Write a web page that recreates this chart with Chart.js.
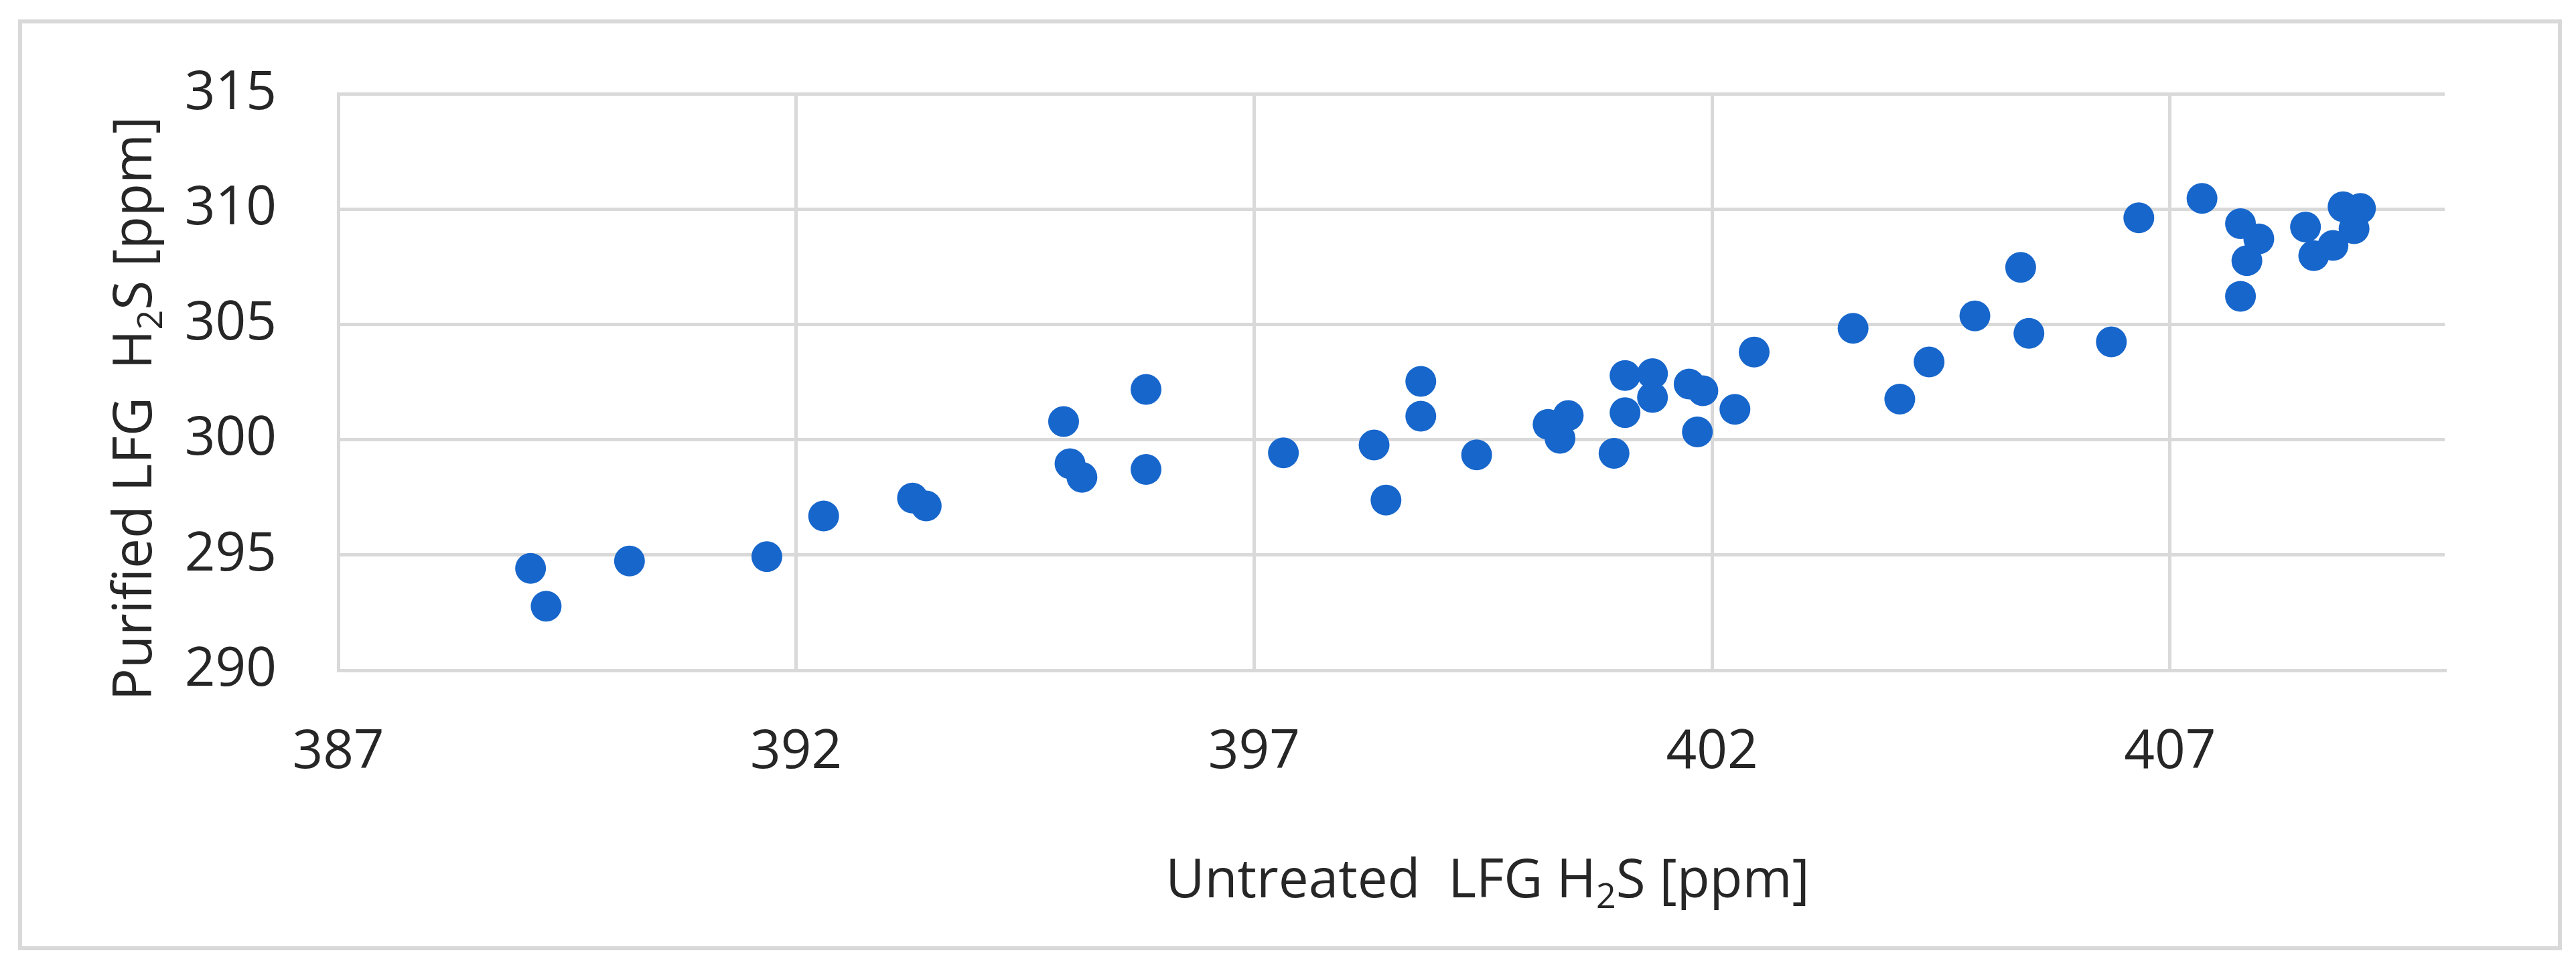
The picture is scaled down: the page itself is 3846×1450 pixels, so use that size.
<!DOCTYPE html>
<html>
<head>
<meta charset="utf-8">
<script src="https://cdn.jsdelivr.net/npm/chart.js@4.4.1/dist/chart.umd.min.js"></script>
<style>
  html, body { margin: 0; padding: 0; background: #fff; }
  #wrap { width: 3846px; height: 1450px; }
</style>
</head>
<body>
<div id="wrap"><canvas id="myChart" width="3846" height="1450"></canvas></div>
<script>
// untreated vs purified H2S readings (ppm)
const untreated = [
  389.10, 389.27, 390.18, 391.68, 392.30, 393.27, 393.42, 394.92, 394.99, 395.12,
  395.82, 395.82, 397.32, 398.31, 398.44, 398.82, 398.82, 399.43, 400.21, 400.43,
  400.34, 400.93, 401.05, 401.35, 401.35, 401.05, 401.75, 401.90, 401.84, 402.25,
  402.46, 403.54, 404.05, 404.37, 404.87, 405.37, 405.46, 406.36, 406.66, 407.35,
  407.77, 407.97, 407.84, 407.77, 408.48, 408.57, 408.78, 409.01, 408.89, 409.08
];
const purified = [
  294.42, 292.78, 294.74, 294.93, 296.69, 297.47, 297.13, 300.79, 298.96, 298.37,
  302.18, 298.71, 299.43, 299.77, 297.38, 302.53, 301.02, 299.34, 300.66, 301.05,
  300.06, 299.41, 302.78, 302.86, 301.83, 301.17, 302.41, 302.12, 300.34, 301.32,
  303.80, 304.83, 301.76, 303.37, 305.37, 307.47, 304.61, 304.24, 309.62, 310.46,
  309.37, 308.71, 307.76, 306.22, 309.22, 307.98, 308.42, 309.15, 310.10, 310.03
];
const xTicks = [387, 392, 397, 402, 407];
const yTicks = [290, 295, 300, 305, 310, 315];
const xTitle = ['Untreated  LFG H', '2', 'S [ppm]'];
const yTitle = ['Purified LFG  H', '2', 'S [ppm]'];

const FONT = '"Open Sans", "Noto Sans", sans-serif';
const textColor = '#262626';
const gridColor = '#d9d9d9';

// draws the frame and the two axis titles (with subscript 2)
const decor = {
  id: 'decor',
  beforeDraw(chart) {
    const c = chart.ctx;
    c.save();
    c.fillStyle = '#fff';
    c.fillRect(0, 0, chart.width, chart.height);
    c.strokeStyle = '#d9d9d9';
    c.lineWidth = 6;
    c.strokeRect(30, 32, 3792, 1384);
    c.restore();
  },
  afterDraw(chart) {
    const c = chart.ctx;
    const big = '80px ' + FONT, small = '52px ' + FONT;
    function widthOf(parts) {
      c.font = big; let w = c.measureText(parts[0]).width + c.measureText(parts[2]).width;
      c.font = small; w += c.measureText(parts[1]).width;
      return w;
    }
    function drawParts(parts, x, y) {
      c.font = big; c.fillText(parts[0], x, y); x += c.measureText(parts[0]).width;
      c.font = small; c.fillText(parts[1], x, y + 16); x += c.measureText(parts[1]).width;
      c.font = big; c.fillText(parts[2], x, y);
    }
    c.save();
    c.fillStyle = textColor;
    c.textBaseline = 'alphabetic';
    c.textAlign = 'left';
    // x title
    let w = widthOf(xTitle);
    drawParts(xTitle, 2221 - w / 2, 1340);
    // y title, rotated
    w = widthOf(yTitle);
    c.translate(226, 610);
    c.rotate(-Math.PI / 2);
    drawParts(yTitle, -w / 2, 0);
    c.restore();
  }
};

const ctx = document.getElementById('myChart');
const myChart = new Chart(ctx, {
  type: 'scatter',
  data: {
    datasets: [{
      data: untreated.map((v, i) => ({ x: v, y: purified[i] })),
      backgroundColor: '#1766CC',
      borderColor: '#1766CC',
      borderWidth: 0,
      pointRadius: 23,
      pointHoverRadius: 23
    }]
  },
  options: {
    responsive: false,
    animation: false,
    devicePixelRatio: 1,
    events: [],
    layout: { padding: { top: 130, right: 196, left: 0, bottom: 0 } },
    plugins: { legend: { display: false }, tooltip: { enabled: false } },
    scales: {
      x: {
        type: 'linear', min: 387, max: 410,
        afterBuildTicks: s => { s.ticks = xTicks.map(v => ({ value: v })); },
        afterFit: s => { s.height = 449; },
        grid: { color: gridColor, lineWidth: 5, drawTicks: false },
        border: { color: gridColor, width: 5 },
        ticks: { color: textColor, font: { family: FONT, size: 80 }, padding: 75, maxRotation: 0 }
      },
      y: {
        type: 'linear', min: 290, max: 315,
        afterBuildTicks: s => { s.ticks = yTicks.map(v => ({ value: v })); },
        afterFit: s => { s.width = 505; },
        grid: { color: gridColor, lineWidth: 5, drawTicks: false },
        border: { color: gridColor, width: 5 },
        ticks: { color: textColor, font: { family: FONT, size: 80 }, padding: 92 }
      }
    }
  },
  plugins: [decor]
});
</script>
</body>
</html>
